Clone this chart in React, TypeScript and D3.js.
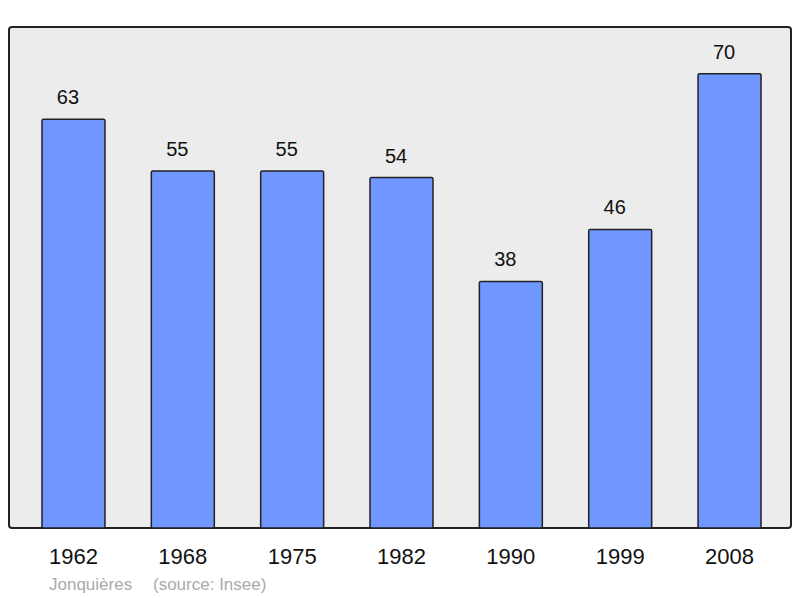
import React from 'react';
import * as d3 from 'd3';

const years = ['1962', '1968', '1975', '1982', '1990', '1999', '2008'];
const population = [63, 55, 55, 54, 38, 46, 70];
const commune = 'Jonquières';
const source = '(source: Insee)';

const W = 800;
const H = 598;
const panel = { left: 9, top: 27, right: 791, bottom: 528 };

export default function App() {
  const x = d3.scaleBand<string>()
    .domain(years)
    .range([18.8, 784.2])
    .paddingInner(0.424)
    .paddingOuter(0.212);

  // the top of the panel sits a little above the biggest bar
  const y = d3.scaleLinear()
    .domain([0, 77.2])
    .range([panel.bottom, panel.top]);

  const font = '"Liberation Sans", Arial, sans-serif';

  return (
    <svg width={W} height={H} style={{ position: 'absolute', left: 0, top: 0 }} fontFamily={font}>
      <rect
        x={panel.left}
        y={panel.top}
        width={panel.right - panel.left}
        height={panel.bottom - panel.top}
        rx={3}
        fill="#ececec"
        stroke="#222"
        strokeWidth={2}
      />
      {years.map((yr, i) => {
        const cx = (x(yr) as number) + x.bandwidth() / 2;
        return (
          <g key={yr}>
            <rect
              x={x(yr)}
              y={y(population[i])}
              width={x.bandwidth()}
              height={y(0) - y(population[i])}
              rx={1.5}
              fill="#7096ff"
              stroke="#222"
              strokeWidth={1.5}
            />
            {/* value labels sit slightly left of the bar centre */}
            <text x={cx - 5.5} y={y(population[i]) - 15} textAnchor="middle" fontSize={20} fill="#111">
              {population[i]}
            </text>
            <text x={cx} y={564} textAnchor="middle" fontSize={22} fill="#111">
              {yr}
            </text>
          </g>
        );
      })}
      <text x={49} y={590} fontSize={17} fill="#aaa">{commune}</text>
      <text x={153} y={590} fontSize={17} fill="#aaa">{source}</text>
    </svg>
  );
}
